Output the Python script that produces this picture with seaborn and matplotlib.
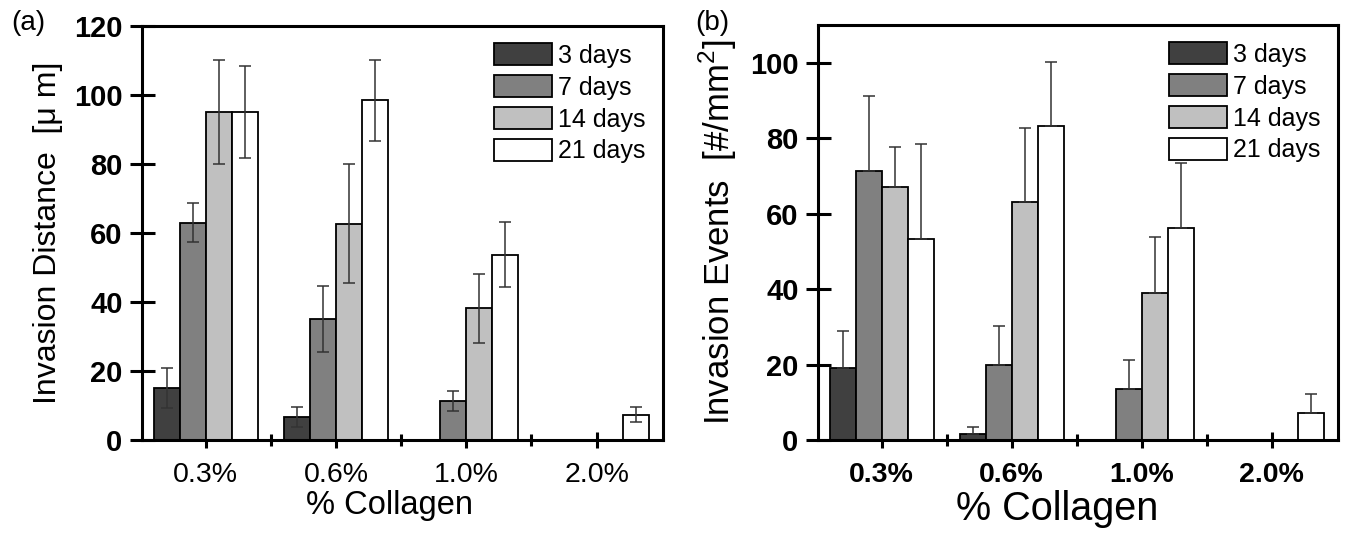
import numpy as np
import pandas as pd
import matplotlib
matplotlib.use("Agg")
import matplotlib.pyplot as plt
import seaborn as sns
from matplotlib.ticker import FixedLocator

sns.set_theme(style="white")
plt.rcParams['font.family'] = ['Liberation Sans', 'DejaVu Sans']
plt.rcParams['mathtext.fontset'] = 'custom'
plt.rcParams['mathtext.rm'] = 'Liberation Sans'
plt.rcParams['text.color'] = 'black'
plt.rcParams['axes.labelcolor'] = 'black'
plt.rcParams['xtick.color'] = 'black'
plt.rcParams['ytick.color'] = 'black'

categories = ["0.3%", "0.6%", "1.0%", "2.0%"]
days = ["3 days", "7 days", "14 days", "21 days"]
colors = ["#404040", "#808080", "#c0c0c0", "#ffffff"]

# Panel (a): invasion distance [um]
dist_3 = [15.1, 6.7, 0.0, 0.0]
dist_7 = [63.0, 35.1, 11.3, 0.0]
dist_14 = [95.1, 62.7, 38.2, 0.0]
dist_21 = [95.1, 98.5, 53.7, 7.3]
dist_err_3 = [5.8, 2.9, 0.0, 0.0]
dist_err_7 = [5.7, 9.5, 3.0, 0.0]
dist_err_14 = [15.0, 17.2, 10.0, 0.0]
dist_err_21 = [13.4, 11.7, 9.4, 2.2]

# Panel (b): invasion events [#/mm^2]
ev_3 = [19.1, 1.5, 0.0, 0.0]
ev_7 = [71.2, 19.9, 13.6, 0.0]
ev_14 = [67.0, 63.0, 38.9, 0.0]
ev_21 = [53.2, 83.3, 56.2, 7.1]
ev_err_3 = [9.8, 2.0, 0.0, 0.0]
ev_err_7 = [20.0, 10.4, 7.5, 0.0]
ev_err_14 = [10.7, 19.8, 15.0, 0.0]
ev_err_21 = [25.3, 17.0, 17.1, 5.1]


def long_df(series):
    rows = []
    for d, vals in zip(days, series):
        for c, v in zip(categories, vals):
            rows.append({"cat": c, "day": d, "val": v})
    return pd.DataFrame(rows)


def draw(ax, series, errs, ylim, yticks, ylabel, ylabel_size, xtick_bold, xlabel_size, symmetric):
    df = long_df(series)
    sns.barplot(data=df, x="cat", y="val", hue="day", order=categories, hue_order=days,
                palette=colors, edgecolor="black", linewidth=1.3, saturation=1,
                errorbar=None, width=0.8, ax=ax)
    for cont, err in zip(ax.containers, errs):
        xs = [b.get_x() + b.get_width() / 2 for b in cont]
        hs = [b.get_height() for b in cont]
        err = np.array(err)
        keep = err > 0
        xs = np.array(xs)[keep]
        hs = np.array(hs)[keep]
        e = err[keep]
        if symmetric:
            yerr = e
        else:
            yerr = [np.zeros_like(e), e]
        ax.errorbar(xs, hs, yerr=yerr, fmt="none", ecolor="#333333", elinewidth=1.1,
                    capsize=4, capthick=1.1, zorder=5)
    ax.set_xlim(-0.49, 3.51)
    ax.set_ylim(*ylim)
    ax.set_yticks(yticks)
    ax.xaxis.set_minor_locator(FixedLocator([0.5, 1.5, 2.5]))
    ax.tick_params(axis="y", direction="inout", length=18, width=2.2, labelsize=21, pad=5,
                   left=True)
    ax.tick_params(axis="x", which="major", direction="inout", length=11, width=2.2,
                   labelsize=20.5, pad=10, bottom=True)
    ax.tick_params(axis="x", which="minor", direction="inout", length=8, width=2.2, bottom=True)
    for lab in ax.get_yticklabels():
        lab.set_fontweight("bold")
    for lab in ax.get_xticklabels():
        lab.set_fontweight("bold" if xtick_bold else "normal")
    for s in ax.spines.values():
        s.set_visible(True)
        s.set_linewidth(2.2)
        s.set_color("black")
    ax.set_xlabel("% Collagen", fontsize=xlabel_size, labelpad=4)
    ax.set_ylabel(ylabel, fontsize=ylabel_size, labelpad=8)
    handles, labels = ax.get_legend_handles_labels()
    ax.legend(handles, labels, loc="upper right", frameon=False, fontsize=18,
              handlelength=2.3, handleheight=0.95, labelspacing=0.3, handletextpad=0.25,
              borderaxespad=0.3)


fig = plt.figure(figsize=(13.47, 5.36), dpi=100)
ax1 = fig.add_axes([0.1054, 0.1791, 0.3868, 0.7724])
ax2 = fig.add_axes([0.6073, 0.1791, 0.3860, 0.7743])

draw(ax1, [dist_3, dist_7, dist_14, dist_21],
     [dist_err_3, dist_err_7, dist_err_14, dist_err_21],
     (0, 120), [0, 20, 40, 60, 80, 100, 120], "Invasion Distance  [\u03bc m]", 23,
     False, 23.5, True)
draw(ax2, [ev_3, ev_7, ev_14, ev_21],
     [ev_err_3, ev_err_7, ev_err_14, ev_err_21],
     (0, 110), [0, 20, 40, 60, 80, 100], "Invasion Events  [#/mm$^2$]", 25,
     True, 28.5, False)
ax1.xaxis.set_label_coords(0.475, -0.12)
ax2.xaxis.set_label_coords(0.46, -0.12)

fig.text(0.008, 0.958, "(a)", fontsize=20, va="center", ha="left")
fig.text(0.516, 0.958, "(b)", fontsize=20, va="center", ha="left")

fig.savefig("out.png", dpi=100)
